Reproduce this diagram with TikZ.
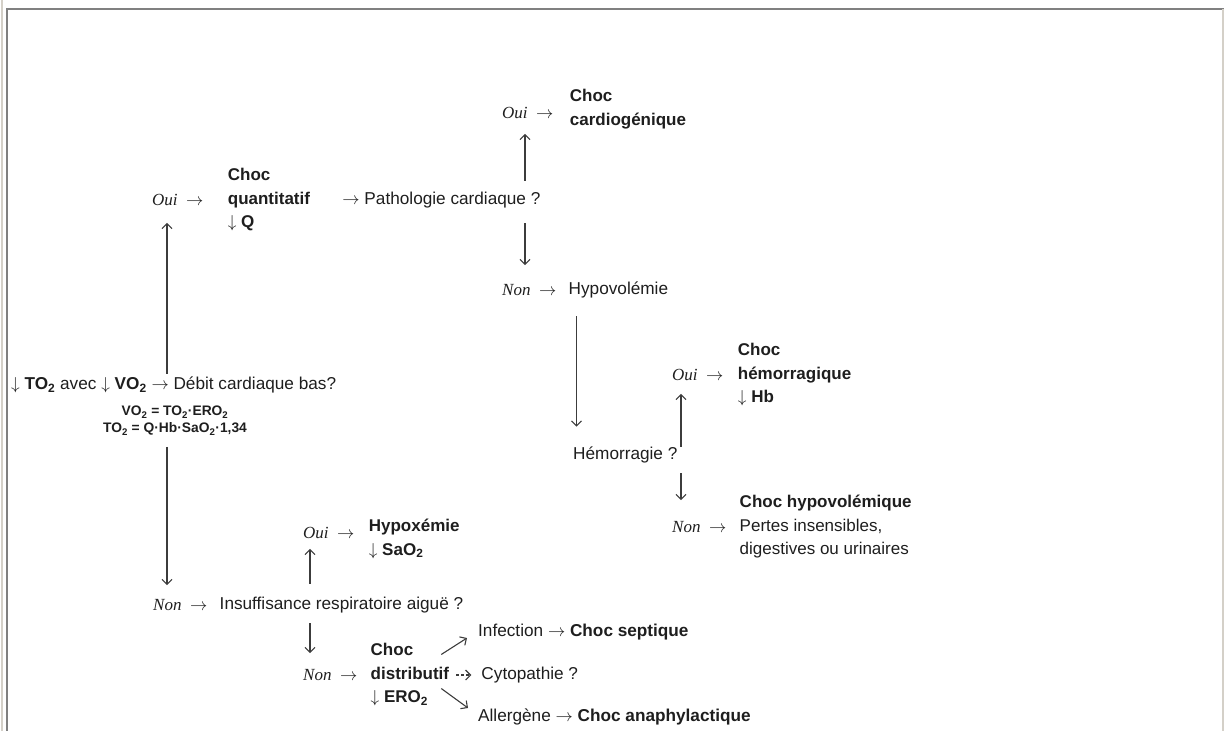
\documentclass[tikz,border=0pt]{standalone}
\usepackage{fontspec}
\setmainfont{Liberation Sans}
\newfontfamily\timesfont{Liberation Serif}
\usepackage{tikz}
\usetikzlibrary{positioning, arrows.meta}
\definecolor{ink}{RGB}{30,30,30}
\definecolor{linegrey}{RGB}{60,60,60}
\definecolor{framegrey}{RGB}{128,128,128}
\definecolor{framelight}{RGB}{212,208,200}
\tikzstyle{question} = [inner sep=0pt, text=ink, font=\fontsize{17.2}{23.5}\selectfont]
\tikzstyle{answer} = [inner sep=0pt, text=ink, font=\timesfont\itshape\fontsize{17}{23.5}\selectfont]
\tikzstyle{result} = [inner sep=0pt, text=ink, align=left, font=\bfseries\fontsize{17}{23.5}\selectfont]
\tikzstyle{formula} = [inner sep=0pt, text=ink, align=center, font=\bfseries\fontsize{13.8}{17}\selectfont]
\tikzstyle{arrow} = [line width=1.1pt, draw=linegrey, -{Straight Barb[length=5pt,width=10pt]}, shorten <=10pt, shorten >=15pt]

\begin{document}
\begin{tikzpicture}[x=1pt, y=-1pt]
    \useasboundingbox (0,0) rectangle (1224,731);
    % frame
    \draw [framelight, line width=2pt] (1.5,0) -- (1.5,731);
    \draw [framegrey, line width=2pt] (7,731) -- (7,9) -- (1224,9);
    \draw [framelight, line width=2pt] (1222.5,9) -- (1222.5,731);

    % start
    \node (debit) [question, anchor=west] at (11,385) {$\downarrow$ \textbf{TO\textsubscript{2}} avec $\downarrow$ \textbf{VO\textsubscript{2}} $\rightarrow$ Débit cardiaque bas?};
    \node (formulas) [formula] at (175,421) {VO\textsubscript{2} = TO\textsubscript{2}·ERO\textsubscript{2}\\TO\textsubscript{2} = Q·Hb·SaO\textsubscript{2}·1,34};
    % Choc quantitatif
    \node (ouiQ) [answer, anchor=west] at (152,200) {Oui\enskip$\rightarrow$};
    \node (quant) [result, right=24pt of ouiQ] {Choc\\quantitatif\\$\downarrow$ Q};
    \node (patho) [question, right=32pt of quant] {$\rightarrow$ Pathologie cardiaque ?};
    % Pathologie cardiaque => oui / non
    \node (ouiC) [answer, anchor=west] at (502,113) {Oui\enskip$\rightarrow$};
    \node (cardio) [result, right=16pt of ouiC, yshift=4pt] {Choc\\cardiogénique};
    \node (nonP) [answer, anchor=west] at (502,290) {Non\enskip$\rightarrow$};
    \node (hypovol) [question, right=12pt of nonP] {Hypovolémie};
    % Hemorragie => oui / non
    \node (hemo) [question, anchor=west] at (573,455) {Hémorragie ?};
    \node (ouiH) [answer, anchor=west] at (672,375) {Oui\enskip$\rightarrow$};
    \node (hemoR) [result, right=14pt of ouiH] {Choc\\hémorragique\\$\downarrow$ Hb};
    \node (nonH) [answer, anchor=west] at (672,527) {Non\enskip$\rightarrow$};
    \node (hypoR) [result, right=13pt of nonH] {Choc hypovolémique\\\textmd{Pertes insensibles,}\\\textmd{digestives ou urinaires}};
    % Insuffisance respiratoire
    \node (nonI) [answer, anchor=west] at (153,605) {Non\enskip$\rightarrow$};
    \node (insuf) [question, right=12pt of nonI] {Insuffisance respiratoire aiguë ?};
    \node (ouiX) [answer, anchor=west] at (303,533) {Oui\enskip$\rightarrow$};
    \node (hypox) [result, right=14pt of ouiX, yshift=-6pt] {Hypoxémie\\$\downarrow$ SaO\textsubscript{2}};
    \node (nonD) [answer, anchor=west] at (303,675) {Non\enskip$\rightarrow$};
    \node (distrib) [result, right=13pt of nonD] {Choc\\distributif\\$\downarrow$ ERO\textsubscript{2}};
    % Choc distributif => causes
    \node (infect) [question, anchor=west] at (478,632) {Infection $\rightarrow$ \textbf{Choc septique}};
    \node (cyto) [question, right=32pt of distrib] {Cytopathie ?};
    \node (allerg) [question, anchor=west] at (478,717) {Allergène $\rightarrow$ \textbf{Choc anaphylactique}};

    % columns of the vertical arrows
    \coordinate (colA) at ([xshift=15pt]ouiQ.west);
    \coordinate (colB) at ([xshift=23pt]ouiC.west);
    \coordinate (colC) at ([xshift=8pt]hypovol.west);
    \coordinate (colD) at ([xshift=9pt]ouiH.west);
    \coordinate (colE) at ([xshift=7pt]ouiX.west);

    \draw [arrow, shorten <=3pt, shorten >=17pt] (debit.north -| colA) -- (ouiQ.south -| colA);
    \draw [arrow, shorten <=11pt, shorten >=14pt] (formulas.south -| colA) -- (nonI.north -| colA);
    %
    \draw [arrow, shorten <=11pt, shorten >=15pt] (patho.north -| colB) -- (ouiC.south -| colB);
    \draw [arrow, shorten <=15pt, shorten >=19pt] (patho.south -| colB) -- (nonP.north -| colB);
    \draw [arrow, shorten <=18pt, shorten >=20pt] (hypovol.south -| colC) -- (hemo.north -| colC);
    %
    \draw [arrow, shorten <=0pt, shorten >=13pt] (hemo.north -| colD) -- (ouiH.south -| colD);
    \draw [arrow, shorten <=10pt, shorten >=21pt] (hemo.south -| colD) -- (nonH.north -| colD);
    %
    \draw [arrow, shorten <=13pt, shorten >=10pt] (insuf.north -| colE) -- (ouiX.south -| colE);
    \draw [arrow, shorten <=10pt, shorten >=16pt] (insuf.south -| colE) -- (nonD.north -| colE);
    %
    \draw [arrow, shorten <=0pt, shorten >=0pt] ([xshift=-8pt, yshift=-11pt]distrib.north east) -- ([xshift=-11pt, yshift=-6pt]infect.west);
    \draw [arrow, densely dashed, shorten <=7pt, shorten >=10pt] (distrib.east) -- (cyto.west);
    \draw [arrow, shorten <=0pt, shorten >=0pt] ([xshift=-8pt, yshift=18pt]distrib.south east) -- ([xshift=-10pt, yshift=9pt]allerg.west);

\end{tikzpicture}
\end{document}
